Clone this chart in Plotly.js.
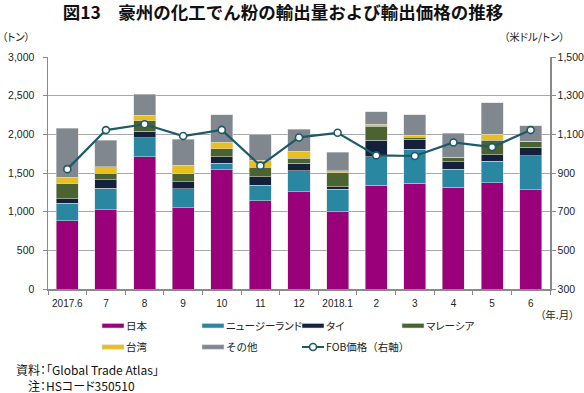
<!DOCTYPE html>
<html>
<head>
<meta charset="utf-8">
<script src="https://cdn.plot.ly/plotly-3.0.1.min.js"></script>
<style>
html, body { margin: 0; padding: 0; background: #fff; }
#chart { width: 584px; height: 393px; }
text.legendtext, text.annotation-text { font-feature-settings: "palt" 1; }
</style>
</head>
<body>
<div id="chart"></div>
<script>
// Categories (year.month)
const months = ['2017.6', '7', '8', '9', '10', '11', '12', '2018.1', '2', '3', '4', '5', '6'];

// Export volume by destination (tonnes), stacked
const japan    = [881, 1027, 1710, 1053, 1543, 1139, 1259, 1001, 1341, 1367, 1315, 1375, 1285];
const newZealand = [228, 279, 245, 245, 81, 202, 271, 288, 369, 442, 236, 275, 438];
const thailand = [56, 104, 86, 90, 86, 111, 94, 35, 215, 125, 95, 86, 112];
const malaysia = [193, 90, 133, 103, 103, 125, 69, 180, 181, 26, 56, 189, 69];
const taiwan   = [90, 81, 74, 112, 86, 90, 90, 26, 25, 25, 0, 78, 4];
const others   = [628, 344, 270, 335, 353, 336, 280, 236, 164, 267, 309, 408, 206];

// FOB price (USD/tonne), right axis
const fobPrice = [920, 1122, 1152, 1091, 1123, 938, 1084, 1108, 991, 988, 1058, 1034, 1122];

const seriesNames = ['日本', 'ニュージーランド', 'タイ', 'マレーシア', '台湾', 'その他'];
const seriesData = [japan, newZealand, thailand, malaysia, taiwan, others];
const seriesColors = ['#9a0079', '#2a87a1', '#15203a', '#4b6231', '#e8bf21', '#80878e'];
const seriesLegend = ['legend', 'legend', 'legend', 'legend', 'legend2', 'legend2'];

const JP = '"Noto Sans CJK JP", "Noto Sans", sans-serif';
const NUM = '"Liberation Sans", Arial, sans-serif';

const traces = seriesNames.map((name, i) => ({
  type: 'bar',
  name: name,
  x: months,
  y: seriesData[i],
  legend: seriesLegend[i],
  legendwidth: 55,
  marker: { color: seriesColors[i], line: { color: 'rgba(215,215,215,0.9)', width: 0.6 } },
  hoverinfo: 'x+y+name'
}));
traces[3].legendwidth = 100;

traces.push({
  type: 'scatter',
  mode: 'lines+markers',
  name: 'FOB価格（右軸）',
  x: months,
  y: fobPrice,
  yaxis: 'y2',
  legend: 'legend2',
  legendwidth: 110,
  line: { color: '#1d5a69', width: 2.2 },
  marker: { symbol: 'circle', size: 7, color: '#ffffff', line: { color: '#1d5a69', width: 1.6 } }
});

const W = 584, H = 393;
const M = { l: 48, r: 34, t: 57, b: 104 };
const PW = W - M.l - M.r, PH = H - M.t - M.b;
const px = x => (x - M.l) / PW;
const py = y => (H - M.b - y) / PH;

const axisCol = '#8a8a8a';

const layout = {
  width: W,
  height: H,
  margin: M,
  paper_bgcolor: '#ffffff',
  plot_bgcolor: '#ffffff',
  barmode: 'stack',
  bargap: 0.43,
  showlegend: true,
  font: { family: JP, size: 10.5, color: '#222' },
  title: {
    text: '図13　豪州の化工でん粉の輸出量および輸出価格の推移',
    font: { family: JP, size: 17.5, color: '#111', weight: 700 },
    x: 283 / W, xanchor: 'center',
    y: 1 - 13 / H, yanchor: 'middle'
  },
  xaxis: {
    type: 'category',
    range: [-0.5, months.length - 0.5],
    showline: true, linecolor: axisCol, linewidth: 1.5,
    ticks: 'outside', tickson: 'boundaries', ticklen: 4, tickcolor: axisCol, tickwidth: 1,
    tickangle: 0, ticklabelstandoff: 4,
    tickfont: { family: NUM, size: 10, color: '#222' },
    showgrid: false, zeroline: false, fixedrange: true
  },
  yaxis: {
    range: [0, 3000], dtick: 500, tickformat: ',d',
    showline: true, linecolor: axisCol, linewidth: 1.5,
    ticks: 'outside', ticklen: 4, tickcolor: axisCol,
    ticklabelstandoff: 6,
    tickfont: { family: NUM, size: 10.5, color: '#222' },
    showgrid: true, gridcolor: '#a8a8a8', gridwidth: 1,
    zeroline: false, fixedrange: true
  },
  yaxis2: {
    overlaying: 'y', side: 'right',
    range: [300, 1500], tick0: 300, dtick: 200, tickformat: ',d',
    showline: true, linecolor: axisCol, linewidth: 1.5,
    ticks: 'outside', ticklen: 4, tickcolor: axisCol,
    tickfont: { family: NUM, size: 10.5, color: '#222' },
    showgrid: false, zeroline: false, fixedrange: true
  },
  legend: {
    orientation: 'h', traceorder: 'normal',
    xref: 'container', yref: 'container',
    x: 86 / W, xanchor: 'left',
    y: 1 - 325.7 / H, yanchor: 'middle',
    entrywidthmode: 'pixels',
    font: { family: JP, size: 10.5, color: '#222' },
    bgcolor: 'rgba(0,0,0,0)', borderwidth: 0
  },
  legend2: {
    orientation: 'h', traceorder: 'normal',
    xref: 'container', yref: 'container',
    x: 86 / W, xanchor: 'left',
    y: 1 - 347 / H, yanchor: 'middle',
    entrywidthmode: 'pixels',
    font: { family: JP, size: 10.5, color: '#222' },
    bgcolor: 'rgba(0,0,0,0)', borderwidth: 0
  },
  annotations: [
    { text: '（トン）', xref: 'paper', yref: 'paper', x: px(0), y: py(36.7), xanchor: 'left', yanchor: 'middle', showarrow: false, font: { family: JP, size: 10.5, color: '#222' } },
    { text: '（米ドル/トン）', xref: 'paper', yref: 'paper', x: px(567), y: py(36.7), xanchor: 'right', yanchor: 'middle', showarrow: false, font: { family: JP, size: 10.5, color: '#222' } },
    { text: '（年.月）', xref: 'paper', yref: 'paper', x: px(576), y: py(314.3), xanchor: 'right', yanchor: 'middle', showarrow: false, font: { family: JP, size: 10.5, color: '#222' } },
    { text: '資料：「Global Trade Atlas」', xref: 'paper', yref: 'paper', x: px(14), y: py(369.3), xanchor: 'left', yanchor: 'middle', showarrow: false, font: { family: JP, size: 12, color: '#111' } },
    { text: '注：HSコード350510', xref: 'paper', yref: 'paper', x: px(25.5), y: py(385.7), xanchor: 'left', yanchor: 'middle', showarrow: false, font: { family: JP, size: 12, color: '#111' } }
  ]
};

// Reshape legend swatches to the flat bar style of the original chart
function styleLegendSymbols(gd) {
  gd.querySelectorAll('g.traces').forEach(g => {
    const d = g.__data__;
    if (!d || !d[0] || !d[0].trace) return;
    const tr = d[0].trace;
    if (tr.type === 'bar') {
      const p = g.querySelector('g.legendpoints path');
      if (p) { p.setAttribute('d', 'M16,2.3H38V-2.3H16Z'); p.setAttribute('transform', 'translate(0,0)'); }
    } else if (tr.type === 'scatter') {
      const l = g.querySelector('g.legendlines path');
      if (l) l.setAttribute('d', 'M16,0h22');
      const m = g.querySelector('g.legendpoints path');
      if (m) m.setAttribute('transform', 'translate(27,0)');
    }
  });
}

Plotly.newPlot('chart', traces, layout, { displayModeBar: false, staticPlot: true })
  .then(gd => styleLegendSymbols(gd));
</script>
</body>
</html>
